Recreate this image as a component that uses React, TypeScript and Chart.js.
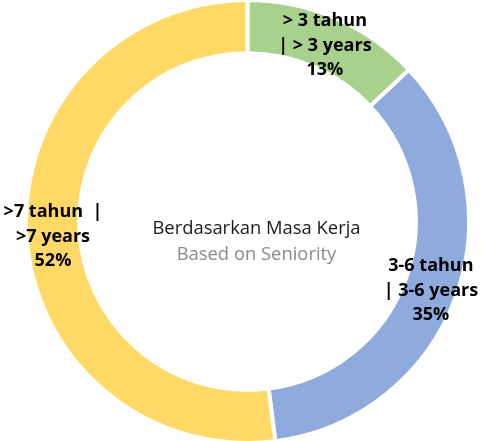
import React, { useEffect, useRef } from "react";
import { Chart, registerables } from "chart.js";

Chart.register(...registerables);

const categories: string[][] = [
  ["> 3 tahun", "| > 3 years"],
  ["3-6 tahun", "| 3-6 years"],
  [">7 tahun  |", ">7 years"],
];
const values: number[] = [13, 35, 52];
const percentLabels: string[] = ["13%", "35%", "52%"];
const colors: string[] = ["#A9D18E", "#8FAADC", "#FFD966"];
const centerTitle = "Berdasarkan Masa Kerja";
const centerSubtitle = "Based on Seniority";

const labelPlugin = {
  id: "sliceLabels",
  afterDatasetsDraw(chart: any) {
    const ctx = chart.ctx;
    const meta = chart.getDatasetMeta(0);
    ctx.save();
    ctx.textAlign = "center";
    ctx.textBaseline = "middle";
    ctx.fillStyle = "#000000";
    ctx.font = "bold 18px 'Open Sans'";
    meta.data.forEach((arc: any, i: number) => {
      const p = arc.tooltipPosition();
      const lines = [...categories[i], percentLabels[i]];
      const lh = 24.5;
      const start = p.y - ((lines.length - 1) * lh) / 2;
      lines.forEach((l, k) => ctx.fillText(l, p.x, start + k * lh + 3));
    });
    const arc0 = meta.data[0];
    const cx = arc0.x + 9;
    const cy = arc0.y;
    ctx.font = "18.4px 'Open Sans'";
    ctx.fillStyle = "#1a1a1a";
    ctx.fillText(centerTitle, cx, cy + 7);
    ctx.fillStyle = "#8a8a8a";
    ctx.fillText(centerSubtitle, cx, cy + 33);
    ctx.restore();
  },
};

export default function App() {
  const ref = useRef<HTMLCanvasElement | null>(null);
  useEffect(() => {
    document.body.style.margin = "0";
    const chart = new Chart(ref.current as HTMLCanvasElement, {
      type: "doughnut",
      data: {
        labels: categories.map((c) => c.join(" ")),
        datasets: [
          {
            data: values,
            backgroundColor: colors,
            borderColor: "#ffffff",
            borderWidth: 4,
          },
        ],
      },
      options: {
        animation: false,
        responsive: false,
        cutout: "76%",
        layout: { padding: { left: 14, top: 0, right: 0, bottom: 0 } },
        plugins: {
          legend: { display: false },
          tooltip: { enabled: false },
        },
      },
      plugins: [labelPlugin],
    });
    return () => chart.destroy();
  }, []);
  return (
    <div style={{ position: "absolute", left: 0, top: 0, width: 481, height: 441, overflow: "hidden" }}>
      <canvas
        ref={ref}
        width={481}
        height={447}
        style={{ position: "absolute", left: 0, top: -2, width: 481, height: 447 }}
      />
    </div>
  );
}
